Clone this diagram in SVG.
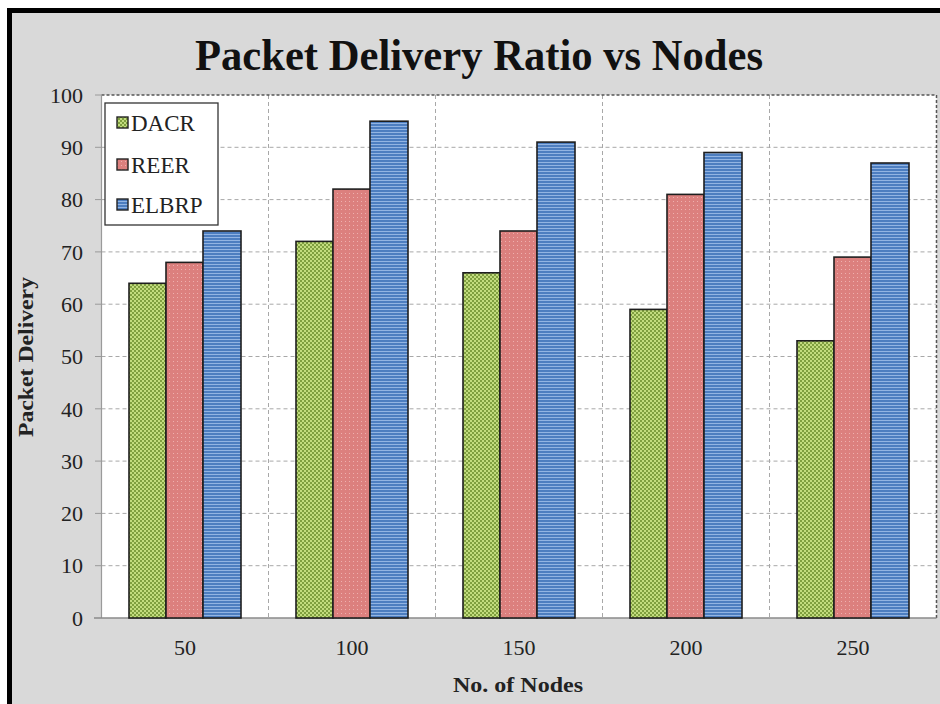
<svg xmlns="http://www.w3.org/2000/svg" width="940" height="704" viewBox="0 0 940 704">
<defs>
<pattern id="pG" width="4" height="4" patternUnits="userSpaceOnUse">
<rect width="4" height="4" fill="#c2dc7e"/>
<rect width="2" height="2" fill="#7f9f3f"/>
<rect x="2" y="2" width="2" height="2" fill="#7f9f3f"/>
</pattern>
<pattern id="pR" width="4" height="4" patternUnits="userSpaceOnUse">
<rect width="4" height="4" fill="#dc807e"/>
<rect x="1" y="1" width="1" height="1" fill="#eeb0ae"/>
</pattern>
<pattern id="pB" width="4" height="3" patternUnits="userSpaceOnUse">
<rect width="4" height="3" fill="#4d7ec0"/>
<rect y="0" width="4" height="1" fill="#92b4e2"/>
</pattern>
<style>
.grid{stroke:#a8a8a8;stroke-width:1;stroke-dasharray:4 3;fill:none}
.tick{font-family:"Liberation Serif","Times New Roman",serif;font-size:22px;fill:#222}
.bar{stroke:#1e1e1e;stroke-width:1.6}
.lg{font-family:"Liberation Serif","Times New Roman",serif;font-size:23px;fill:#222}
</style>
</defs>
<rect x="0" y="0" width="940" height="704" fill="#ffffff"/>
<rect x="7" y="8" width="933" height="696" fill="#d9d9d9"/>
<rect x="7" y="8" width="933" height="5" fill="#000"/>
<rect x="7" y="8" width="5" height="696" fill="#000"/>
<text x="479" y="70" text-anchor="middle" font-family="'Liberation Serif','Times New Roman',serif" font-weight="bold" font-size="44" textLength="568" lengthAdjust="spacingAndGlyphs" fill="#111">Packet Delivery Ratio vs Nodes</text>
<g id="plot">
<rect x="101.5" y="95" width="835" height="523" fill="#ffffff"/>
<g class="grid">
<line x1="101.5" y1="147.3" x2="936.5" y2="147.3"/>
<line x1="101.5" y1="199.6" x2="936.5" y2="199.6"/>
<line x1="101.5" y1="251.9" x2="936.5" y2="251.9"/>
<line x1="101.5" y1="304.2" x2="936.5" y2="304.2"/>
<line x1="101.5" y1="356.5" x2="936.5" y2="356.5"/>
<line x1="101.5" y1="408.8" x2="936.5" y2="408.8"/>
<line x1="101.5" y1="461.1" x2="936.5" y2="461.1"/>
<line x1="101.5" y1="513.4" x2="936.5" y2="513.4"/>
<line x1="101.5" y1="565.7" x2="936.5" y2="565.7"/>
<line x1="268.5" y1="95" x2="268.5" y2="618"/>
<line x1="435.5" y1="95" x2="435.5" y2="618"/>
<line x1="602.5" y1="95" x2="602.5" y2="618"/>
<line x1="769.5" y1="95" x2="769.5" y2="618"/>
</g>
<path d="M101.5 95 H936.5 V618" fill="none" stroke="#555" stroke-width="1.5" stroke-dasharray="3 2"/>
<line x1="101.5" y1="95" x2="101.5" y2="618" stroke="#9a9a9a" stroke-width="1.2"/>
<line x1="94" y1="618" x2="936.5" y2="618" stroke="#8a8a8a" stroke-width="1.5"/>
<g stroke="#9a9a9a" stroke-width="1">
<line x1="95" y1="95" x2="101.5" y2="95"/><line x1="95" y1="147.3" x2="101.5" y2="147.3"/>
<line x1="95" y1="199.6" x2="101.5" y2="199.6"/><line x1="95" y1="251.9" x2="101.5" y2="251.9"/>
<line x1="95" y1="304.2" x2="101.5" y2="304.2"/><line x1="95" y1="356.5" x2="101.5" y2="356.5"/>
<line x1="95" y1="408.8" x2="101.5" y2="408.8"/><line x1="95" y1="461.1" x2="101.5" y2="461.1"/>
<line x1="95" y1="513.4" x2="101.5" y2="513.4"/><line x1="95" y1="565.7" x2="101.5" y2="565.7"/>
</g>
</g>
<g id="yticks" class="tick" text-anchor="end">
<text x="83" y="103">100</text>
<text x="83" y="155">90</text>
<text x="83" y="207">80</text>
<text x="83" y="260">70</text>
<text x="83" y="312">60</text>
<text x="83" y="364">50</text>
<text x="83" y="417">40</text>
<text x="83" y="469">30</text>
<text x="83" y="521">20</text>
<text x="83" y="573">10</text>
<text x="83" y="626">0</text>
</g>
<g id="xticks" class="tick" text-anchor="middle">
<text x="185" y="655">50</text>
<text x="352" y="655">100</text>
<text x="519" y="655">150</text>
<text x="686" y="655">200</text>
<text x="853" y="655">250</text>
</g>
<text x="518" y="692" text-anchor="middle" font-family="'Liberation Serif','Times New Roman',serif" font-weight="bold" font-size="20" textLength="130" lengthAdjust="spacingAndGlyphs" fill="#222">No. of Nodes</text>
<text transform="translate(33,357) rotate(-90)" text-anchor="middle" font-family="'Liberation Serif','Times New Roman',serif" font-weight="bold" font-size="21" textLength="160" lengthAdjust="spacingAndGlyphs" fill="#222">Packet Delivery</text>
<g id="bars">
<g id="g50">
<rect class="bar" x="129" y="283.3" width="37" height="334.7" fill="url(#pG)"/>
<rect class="bar" x="166" y="262.4" width="37" height="355.6" fill="url(#pR)"/>
<rect class="bar" x="203" y="231.0" width="38" height="387.0" fill="url(#pB)"/>
</g>
<g id="g100">
<rect class="bar" x="296" y="241.4" width="37" height="376.6" fill="url(#pG)"/>
<rect class="bar" x="333" y="189.1" width="37" height="428.9" fill="url(#pR)"/>
<rect class="bar" x="370" y="121.2" width="38" height="496.8" fill="url(#pB)"/>
</g>
<g id="g150">
<rect class="bar" x="463" y="272.8" width="37" height="345.2" fill="url(#pG)"/>
<rect class="bar" x="500" y="231.0" width="37" height="387.0" fill="url(#pR)"/>
<rect class="bar" x="537" y="142.1" width="38" height="475.9" fill="url(#pB)"/>
</g>
<g id="g200">
<rect class="bar" x="630" y="309.4" width="37" height="308.6" fill="url(#pG)"/>
<rect class="bar" x="667" y="194.4" width="37" height="423.6" fill="url(#pR)"/>
<rect class="bar" x="704" y="152.5" width="38" height="465.5" fill="url(#pB)"/>
</g>
<g id="g250">
<rect class="bar" x="797" y="340.8" width="37" height="277.2" fill="url(#pG)"/>
<rect class="bar" x="834" y="257.1" width="37" height="360.9" fill="url(#pR)"/>
<rect class="bar" x="871" y="163.0" width="38" height="455.0" fill="url(#pB)"/>
</g>
</g>
<g id="legend">
<rect x="105" y="103" width="113" height="122" fill="#ffffff" stroke="#333" stroke-width="1.3"/>
<rect x="117" y="117" width="11" height="11" fill="url(#pG)" stroke="#222" stroke-width="1.4"/>
<text class="lg" x="131" y="131">DACR</text>
<rect x="117" y="159" width="11" height="11" fill="url(#pR)" stroke="#222" stroke-width="1.4"/>
<text class="lg" x="131" y="173">REER</text>
<rect x="117" y="199" width="11" height="11" fill="url(#pB)" stroke="#222" stroke-width="1.4"/>
<text class="lg" x="131" y="213">ELBRP</text>
</g>
</svg>
